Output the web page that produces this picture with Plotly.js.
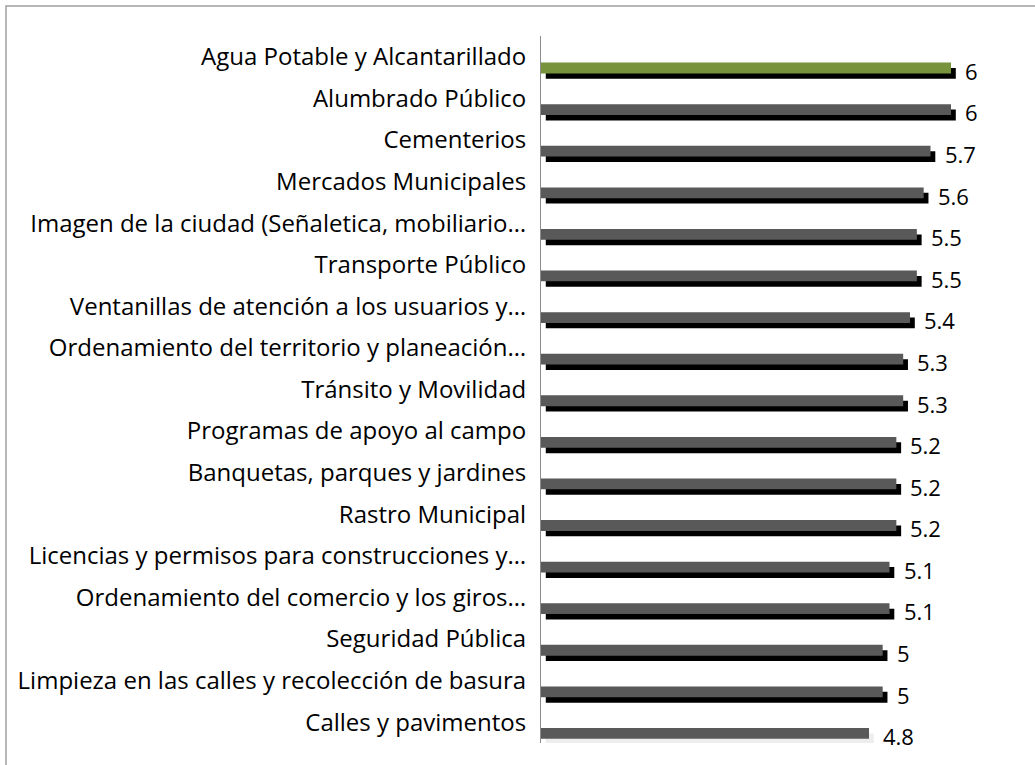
<!DOCTYPE html>
<html>
<head>
<meta charset="utf-8">
<script src="https://cdn.plot.ly/plotly-3.0.1.min.js"></script>
<style>html,body{margin:0;padding:0;background:#fff;}#chart{width:1035px;height:765px;}</style>
</head>
<body>
<div id="chart"></div>
<script>
// Categories (top to bottom)
const categories = [
  "Agua Potable y Alcantarillado",
  "Alumbrado Público",
  "Cementerios",
  "Mercados Municipales",
  "Imagen de la ciudad (Señaletica, mobiliario…",
  "Transporte Público",
  "Ventanillas de atención a los usuarios y…",
  "Ordenamiento del territorio y planeación…",
  "Tránsito y Movilidad",
  "Programas de apoyo al campo",
  "Banquetas, parques y jardines",
  "Rastro Municipal",
  "Licencias y permisos para construcciones y…",
  "Ordenamiento del comercio y los giros…",
  "Seguridad Pública",
  "Limpieza en las calles y recolección de basura",
  "Calles y pavimentos"
];
// Scores
const values = [6, 6, 5.7, 5.6, 5.5, 5.5, 5.4, 5.3, 5.3, 5.2, 5.2, 5.2, 5.1, 5.1, 5, 5, 4.8];
const valueLabels = ["6", "6", "5.7", "5.6", "5.5", "5.5", "5.4", "5.3", "5.3", "5.2", "5.2", "5.2", "5.1", "5.1", "5", "5", "4.8"];

const barColors = values.map((v, i) => i === 0 ? "#77933C" : "#595959");
const shadowColors = values.map((v, i) => i === values.length - 1 ? "rgba(0,0,0,0.07)" : "#000000");

const FONT = "'Open Sans', Lato, sans-serif";

const shadow = {
  type: "bar", orientation: "h",
  x: values, y: categories,
  base: 0.07,
  offset: 0.27, width: 0.26,
  marker: { color: shadowColors, line: { width: 0 } },
  hoverinfo: "skip", showlegend: false
};
const bars = {
  type: "bar", orientation: "h",
  x: values, y: categories,
  offset: 0.14, width: 0.26,
  marker: { color: barColors, line: { width: 0 } },
  hoverinfo: "x+y", showlegend: false
};

const annotations = values.map((v, i) => ({
  x: v, y: categories[i], xref: "x", yref: "y",
  text: valueLabels[i], showarrow: false,
  xanchor: "left", yanchor: "middle",
  xshift: 12, yshift: -14,
  font: { family: FONT, size: 22, color: "#000" }
}));

const layout = {
  width: 1035, height: 765,
  margin: { l: 541, r: 30, t: 36, b: 22, pad: 0 },
  paper_bgcolor: "#ffffff", plot_bgcolor: "#ffffff",
  barmode: "overlay",
  showlegend: false,
  xaxis: { range: [0, 6.79], visible: false, fixedrange: true },
  yaxis: {
    type: "category", range: [categories.length - 0.5, -0.5],
    showline: true, linecolor: "#8c8c8c", linewidth: 1,
    showgrid: false, zeroline: false, ticks: "",
    ticklabelstandoff: 9,
    tickfont: { family: FONT, size: 24, color: "#000" },
    fixedrange: true
  },
  annotations: annotations,
  shapes: [{
    type: "rect", xref: "paper", yref: "paper",
    x0: -1.153, x1: 1.2, y0: -0.2, y1: 1.0424,
    line: { color: "#a0a0a0", width: 1.5 }, fillcolor: "rgba(0,0,0,0)"
  }]
};

Plotly.newPlot("chart", [shadow, bars], layout, { displayModeBar: false, staticPlot: true });
</script>
</body>
</html>
